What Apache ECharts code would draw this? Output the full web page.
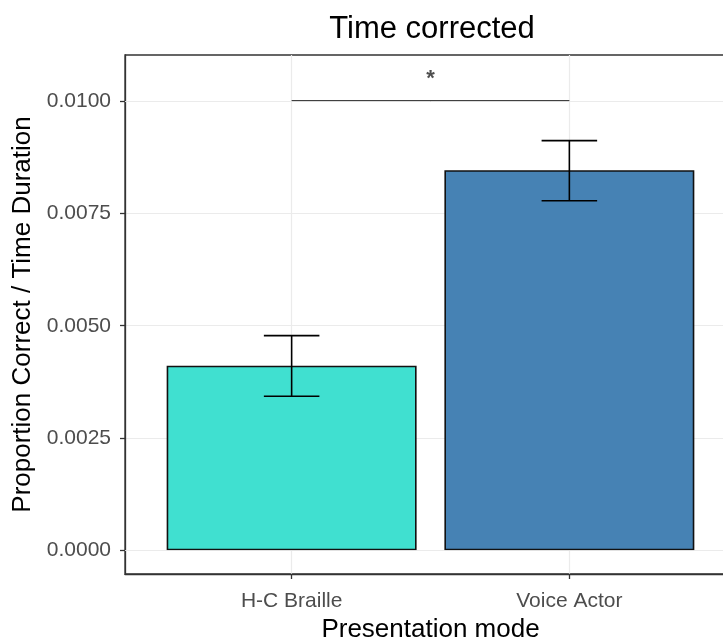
<!DOCTYPE html>
<html>
<head>
<meta charset="utf-8">
<script src="https://cdn.jsdelivr.net/npm/echarts@6/dist/echarts.min.js"></script>
<style>html,body{margin:0;padding:0;background:#fff;overflow:hidden}#c{width:736px;height:639px}</style>
</head>
<body>
<div id="c"></div>
<script>
const categories = ['H-C Braille', 'Voice Actor'];
const categoryPos = [1, 2];
const means = [0.00411, 0.00846];
const errLow = [0.00343, 0.00778];
const errHigh = [0.00478, 0.00912];
const barColors = ['#40E0D0', '#4682B4'];
const yTicks = [0, 0.0025, 0.005, 0.0075, 0.01];
const yMinor = [0.00125, 0.00375, 0.00625, 0.00875];
const sigLine = [[1, 0.01], [2, 0.01]];
const sigLabelPos = [1.5, 0.0105];
const sigLabel = '*';

const font = 'Liberation Sans, Arial, sans-serif';
const chart = echarts.init(document.getElementById('c'));

chart.setOption({
  animation: false,
  title: {
    text: 'Time corrected', left: 427, top: 9, textAlign: 'center',
    textStyle: { fontFamily: font, fontSize: 31, fontWeight: 'normal', color: '#000' }
  },
  grid: { left: 125, right: 0, top: 55, bottom: 65, show: true, borderColor: '#333', borderWidth: 1.3, containLabel: false, outerBoundsMode: 'none' },
  xAxis: {
    type: 'value', min: 0.4, max: 2.6,
    axisLine: { show: true, onZero: false, lineStyle: { color: '#333', width: 1.3 } },
    axisTick: { show: true, customValues: categoryPos, length: 5, lineStyle: { color: '#333', width: 1.3 } },
    axisLabel: {
      customValues: categoryPos, margin: 17, color: '#4D4D4D', fontFamily: font, fontSize: 21,
      formatter: v => categories[categoryPos.indexOf(v)] || ''
    },
    splitLine: { show: true, lineStyle: { color: '#EBEBEB', width: 1.2 } },
    name: 'Presentation mode', nameLocation: 'middle', nameGap: 43,
    nameTextStyle: { fontFamily: font, fontSize: 26, color: '#000' }
  },
  yAxis: {
    type: 'value', min: -0.000525, max: 0.011025,
    axisLine: { show: true, onZero: false, lineStyle: { color: '#333', width: 1.3 } },
    axisTick: { show: true, customValues: yTicks, length: 5, lineStyle: { color: '#333', width: 1.3 } },
    axisLabel: {
      customValues: yTicks, margin: 14, color: '#4D4D4D', fontFamily: font, fontSize: 21,
      formatter: v => v.toFixed(4)
    },
    splitLine: { show: true, lineStyle: { color: '#EBEBEB', width: 1.2 } },
    name: 'Proportion Correct / Time Duration', nameLocation: 'middle', nameGap: 84, nameRotate: 90,
    nameTextStyle: { fontFamily: font, fontSize: 26, color: '#000' }
  },
  series: [
    {
      type: 'line', data: [], z: 1, silent: true,
      markLine: {
        silent: true, symbol: 'none', label: { show: false },
        lineStyle: { color: '#EBEBEB', width: 0.7, type: 'solid' },
        data: yMinor.map(v => ({ yAxis: v }))
      }
    },
    {
      type: 'bar', z: 2, barWidth: '90%',
      data: categoryPos.map((x, i) => ({ value: [x, means[i]], itemStyle: { color: barColors[i] } })),
      itemStyle: { borderColor: '#111', borderWidth: 1.6 }
    },
    {
      type: 'custom', z: 3,
      data: categoryPos.map((x, i) => [x, errLow[i], errHigh[i]]),
      renderItem: (params, api) => {
        const x = api.value(0);
        const lo = api.coord([x, api.value(1)]);
        const hi = api.coord([x, api.value(2)]);
        const hw = api.size([0.1, 0])[0];
        const style = { stroke: '#000', lineWidth: 1.6 };
        return {
          type: 'group', children: [
            { type: 'line', shape: { x1: lo[0], y1: lo[1], x2: hi[0], y2: hi[1] }, style },
            { type: 'line', shape: { x1: lo[0] - hw, y1: lo[1], x2: lo[0] + hw, y2: lo[1] }, style },
            { type: 'line', shape: { x1: hi[0] - hw, y1: hi[1], x2: hi[0] + hw, y2: hi[1] }, style }
          ]
        };
      }
    },
    {
      type: 'line', z: 3, data: sigLine, symbol: 'none', silent: true,
      lineStyle: { color: '#000', width: 1.6 }
    },
    {
      type: 'scatter', z: 3, symbolSize: 1, itemStyle: { color: 'rgba(0,0,0,0)' }, silent: true,
      data: [sigLabelPos],
      label: { show: true, position: 'inside', formatter: sigLabel, fontFamily: font, fontSize: 22, fontWeight: 'bold', color: '#222' }
    }
  ]
});
</script>
</body>
</html>
